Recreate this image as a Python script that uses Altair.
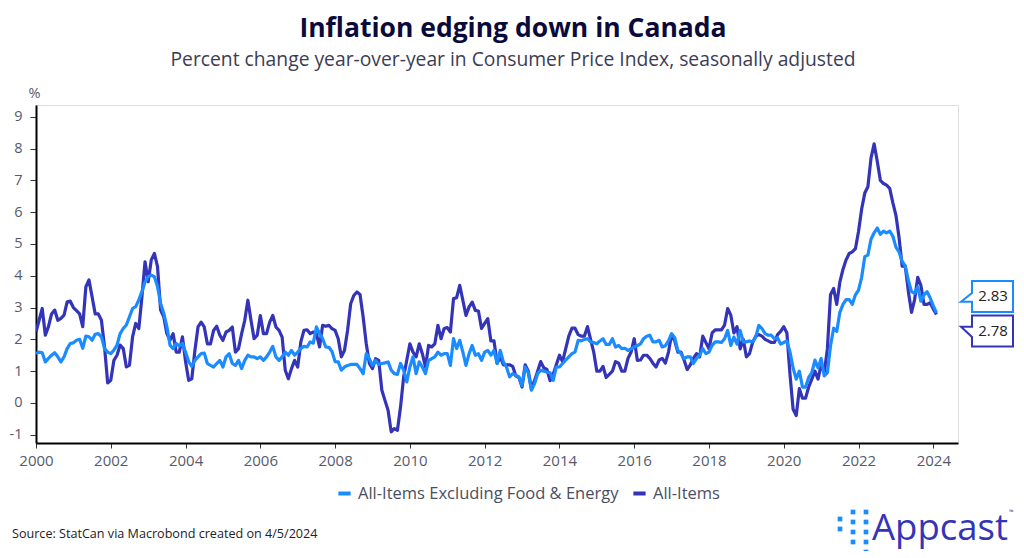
import altair as alt
import pandas as pd

START_YEAR = 2000
SERIES_CORE = "All-Items Excluding Food & Energy"
SERIES_ALL = "All-Items"

TITLE = "Inflation edging down in Canada"
SUBTITLE = "Percent change year-over-year in Consumer Price Index, seasonally adjusted"
SOURCE = "Source: StatCan via Macrobond created on 4/5/2024"
BRAND = "Appcast"

# Monthly values, Jan 2000 .. Feb 2024 (one row per year)
all_items = [
    2.24, 2.6, 2.97, 2.13, 2.4, 2.8, 2.92, 2.6, 2.66, 2.76, 3.18, 3.2,
    3.0, 2.9, 2.8, 2.4, 3.65, 3.87, 3.34, 2.8, 2.8, 2.6, 1.76, 0.63,
    0.71, 1.34, 1.5, 1.82, 1.71, 1.13, 1.19, 2.08, 2.5, 2.34, 3.34, 4.44,
    3.81, 4.5, 4.7, 4.29, 2.92, 2.71, 2.18, 1.97, 2.18, 1.6, 1.6, 2.08,
    1.3, 0.71, 0.76, 1.65, 2.39, 2.54, 2.39, 1.86, 1.86, 2.28, 2.41, 2.13,
    1.97, 2.23, 2.28, 2.39, 1.6, 1.71, 2.18, 2.6, 3.23, 2.6, 2.02, 2.13,
    2.75, 2.18, 2.18, 2.54, 2.75, 2.39, 2.28, 2.07, 1.03, 0.76, 1.08, 1.34,
    1.13, 1.92, 2.28, 2.3, 2.18, 2.23, 2.18, 1.76, 2.44, 2.41, 2.44, 2.34,
    2.28, 2.02, 1.45, 1.65, 2.28, 3.12, 3.38, 3.49, 3.41, 2.7, 1.86, 1.24,
    1.08, 1.39, 1.34, 0.4, 0.08, -0.23, -0.91, -0.81, -0.86, -0.13, 0.82, 1.34,
    1.86, 1.6, 1.45, 1.86, 1.55, 1.13, 1.81, 1.76, 1.86, 2.44, 2.02, 2.34,
    2.37, 2.23, 3.28, 3.31, 3.7, 3.23, 2.75, 3.02, 3.17, 2.91, 2.89, 2.34,
    2.5, 2.65, 1.95, 1.95, 1.25, 1.45, 1.2, 1.2, 1.2, 1.15, 0.85, 0.8,
    0.5, 1.2, 1.0, 0.45, 0.7, 1.0, 1.3, 1.1, 1.05, 0.7, 0.9, 1.2,
    1.5, 1.3, 1.7, 2.1, 2.35, 2.35, 2.15, 2.1, 2.1, 2.4, 2.0, 1.6,
    1.0, 1.0, 1.15, 0.8, 0.9, 1.0, 1.3, 1.25, 1.0, 1.0, 1.4, 1.6,
    2.02, 1.34, 1.35, 1.5, 1.5, 1.4, 1.25, 1.13, 1.35, 1.4, 1.25, 1.6,
    2.15, 1.95, 1.6, 1.6, 1.35, 1.05, 1.2, 1.4, 1.55, 1.45, 2.1, 1.9,
    1.7, 2.2, 2.3, 2.3, 2.3, 2.45, 2.97, 2.76, 2.2, 2.4, 1.7, 2.0,
    1.45, 1.55, 1.9, 2.1, 2.15, 2.1, 2.0, 1.95, 1.9, 1.9, 2.15, 2.25,
    2.4, 2.2, 0.9, -0.2, -0.4, 0.45, 0.15, 0.15, 0.5, 0.75, 1.0, 0.75,
    1.2, 0.95, 1.7, 3.4, 3.6, 3.1, 3.8, 4.2, 4.5, 4.7, 4.75, 4.85,
    5.4, 6.1, 6.6, 6.8, 7.7, 8.15, 7.6, 7.0, 6.9, 6.85, 6.75, 6.3,
    5.9, 5.2, 4.3, 4.3, 3.5, 2.85, 3.25, 3.95, 3.7, 3.1, 3.1, 3.15,
    2.95, 2.78,
]

core = [
    1.55, 1.6, 1.58, 1.29, 1.4, 1.5, 1.58, 1.45, 1.29, 1.45, 1.71, 1.87,
    1.89, 1.97, 2.0, 1.72, 2.1, 2.08, 1.97, 2.16, 2.18, 2.08, 1.71, 1.6,
    1.55, 1.66, 1.82, 2.18, 2.34, 2.45, 2.71, 2.97, 3.03, 3.24, 3.5, 3.81,
    3.97, 4.02, 3.97, 3.66, 3.13, 2.82, 2.4, 1.82, 1.71, 1.87, 1.79, 1.87,
    1.6, 1.3, 1.15, 1.34, 1.45, 1.55, 1.57, 1.24, 1.18, 1.13, 1.24, 1.34,
    1.13, 1.45, 1.55, 1.24, 1.18, 1.34, 1.08, 1.34, 1.5, 1.45, 1.45, 1.39,
    1.45, 1.34, 1.45, 1.6, 1.78, 1.45, 1.34, 1.45, 1.6, 1.5, 1.65, 1.5,
    1.6, 1.71, 1.78, 1.76, 1.92, 1.88, 2.39, 2.18, 2.02, 1.76, 1.75, 1.62,
    1.3, 1.29, 1.03, 1.13, 1.18, 1.21, 1.21, 1.21, 1.08, 0.92, 1.55, 1.39,
    1.18, 1.34, 1.21, 1.24, 1.26, 1.29, 1.03, 0.92, 0.9, 1.24, 1.03, 0.66,
    1.13, 1.45, 0.92, 1.29, 1.13, 0.92, 1.34, 1.39, 1.45, 1.6, 1.5, 1.55,
    1.55, 1.18, 2.02, 1.71, 1.97, 1.6, 1.18, 1.55, 1.81, 1.5, 1.55, 1.34,
    1.6, 1.65, 1.5, 1.65, 1.24, 1.65, 1.29, 1.13, 0.82, 0.92, 0.87, 0.82,
    0.55, 1.13, 0.95, 0.4, 0.6, 0.92, 1.03, 1.0, 0.97, 0.95, 0.71, 1.13,
    1.13, 1.24, 1.35, 1.45, 1.55, 1.6, 1.97, 1.95, 2.0, 2.02, 1.92, 1.9,
    1.86, 1.95, 2.02, 1.84, 1.84, 2.02, 1.76, 1.81, 1.71, 1.72, 1.65, 1.7,
    1.76, 1.8, 1.86, 2.02, 2.1, 2.13, 1.92, 1.92, 1.97, 1.76, 1.8, 1.95,
    2.18, 2.05, 1.65, 1.55, 1.39, 1.45, 1.45, 1.24, 1.4, 1.5, 1.71, 1.55,
    1.6, 1.81, 1.92, 1.92, 1.9, 2.02, 2.28, 1.81, 2.07, 1.85, 2.28, 1.92,
    1.92, 1.95, 1.92, 2.07, 2.44, 2.34, 2.18, 2.13, 2.13, 2.02, 2.05, 1.85,
    1.9, 1.95, 1.6, 1.1, 0.75, 1.0, 0.5, 0.5, 0.8, 0.95, 1.35, 1.1,
    1.4, 0.85, 0.95, 1.8, 2.35, 2.25, 2.85, 3.1, 3.25, 3.25, 3.1, 3.4,
    3.55, 3.95, 4.6, 4.65, 5.15, 5.35, 5.5, 5.3, 5.4, 5.35, 5.4, 5.25,
    4.9, 4.75, 4.45, 4.3, 3.85, 3.5, 3.45, 3.65, 3.2, 3.4, 3.5, 3.3,
    3.05, 2.83,
]

x_ticks = list(range(2000, 2025, 2))
y_ticks = list(range(-1, 10))

COL_CORE = "#1a8cff"
COL_ALL = "#3434b8"
FONT = "Open Sans"
W, H = 922, 338


def frame(vals, name):
    return pd.DataFrame({
        "t": [START_YEAR + i / 12 for i in range(len(vals))],
        "value": vals,
        "series": name,
    })


df = pd.concat([frame(all_items, SERIES_ALL), frame(core, SERIES_CORE)], ignore_index=True)

xscale = alt.Scale(domain=[2000, 2024.66], nice=False, zero=False)
yscale = alt.Scale(domain=[-1.26, 9.37], nice=False, zero=False)

X = alt.X("t:Q", scale=xscale, axis=alt.Axis(
    values=x_ticks, format="d", title=None, grid=False,
    labelFontSize=15, labelColor="#555a6e", labelFont=FONT, labelPadding=5,
    tickSize=5, tickColor="#333333", domainColor="#000000", domainWidth=2,
    labelFlush=False))
Y = alt.Y("value:Q", scale=yscale, axis=alt.Axis(
    values=y_ticks, title="%", titleAngle=0, titleAlign="center",
    titleBaseline="alphabetic", titleX=-2, titleY=-8, titleFontSize=14.5,
    titleFontWeight="normal", titleColor="#555a6e", titleFont=FONT,
    labelExpr="datum.value < 0 ? '-' + abs(datum.value) : '' + datum.value",
    grid=False, labelFontSize=14.5, labelColor="#555a6e", labelFont=FONT,
    labelPadding=8, tickSize=6, tickColor="#333333", domainColor="#000000",
    domainWidth=2))

color = alt.Color("series:N", scale=alt.Scale(domain=[SERIES_CORE, SERIES_ALL], range=[COL_CORE, COL_ALL]),
                  legend=alt.Legend(orient="none", legendX=300, legendY=380, direction="horizontal",
                                    title=None, symbolType="stroke", symbolStrokeWidth=4, symbolSize=150,
                                    labelFontSize=16.5, labelColor="#4a4e62", labelFont=FONT,
                                    labelLimit=0, columnPadding=6, labelOffset=5))

base = alt.Chart(df)
layers = []
for name in [SERIES_ALL, SERIES_CORE]:
    layers.append(
        base.transform_filter(alt.datum.series == name)
        .mark_line(strokeWidth=3.2, strokeJoin="round", clip=True)
        .encode(x=X, y=Y, color=color)
    )

# End-value callouts
PATH_UP = "M -20.5 -15.5 L 20.5 -15.5 L 20.5 15.5 L -20.5 15.5 L -20.5 5.3 L -31.5 5.3 L -20.5 -3.4 Z"
PATH_DOWN = "M -20.5 -15.5 L 20.5 -15.5 L 20.5 15.5 L -20.5 15.5 L -20.5 6 L -31.5 -4.3 L -20.5 -4.3 Z"
callouts = [
    (core[-1], COL_CORE, PATH_UP, -16.5),
    (all_items[-1], COL_ALL, PATH_DOWN, 16.5),
]
for val, col, path, off in callouts:
    cdf = pd.DataFrame({"value": [val], "label": [f"{val:.2f}"]})
    cb = alt.Chart(cdf)
    layers.append(cb.mark_point(shape=path, size=4, filled=True, fill="white", stroke=col,
                                strokeWidth=2, opacity=1, yOffset=off)
                  .encode(x=alt.value(956.5), y=Y))
    layers.append(cb.mark_text(fontSize=15, font=FONT, color="#222222", align="center",
                               baseline="middle", yOffset=off)
                  .encode(x=alt.value(957), y=Y, text="label:N"))


# Titles and footer text
def text_layer(txt, x, y, **kw):
    return alt.Chart(pd.DataFrame({"s": [txt]})).mark_text(font=FONT, **kw).encode(
        x=alt.value(x), y=alt.value(y), text="s:N")


layers.append(text_layer(TITLE, 477, -68.5, fontSize=26.5, fontWeight="bold", color="#0b0b3b",
                         align="center", baseline="alphabetic"))
layers.append(text_layer(SUBTITLE, 477, -39.5, fontSize=19.3, color="#3b3d55",
                         align="center", baseline="alphabetic"))
layers.append(text_layer(SOURCE, -24, 433, fontSize=12.6, color="#222222",
                         align="left", baseline="alphabetic"))
layers.append(text_layer(BRAND, 836, 435, fontSize=36.5, color="#3434b8",
                         align="left", baseline="alphabetic"))
layers.append(text_layer("\u2122", 973, 409, fontSize=6, color="#3434b8",
                         align="left", baseline="alphabetic"))

# Logo squares (decorative)
logo = pd.DataFrame({
    "cx": [804, 804, 817, 817, 817, 817, 830, 830, 830, 830, 830],
    "cy": [414, 424, 407, 417, 427, 437, 407, 417, 427, 437, 447],
})
layers.append(alt.Chart(logo).mark_square(size=22, color=COL_CORE, opacity=1).encode(
    x=alt.X("cx:Q", scale=None), y=alt.Y("cy:Q", scale=None)))

chart = alt.layer(*layers).properties(
    width=W, height=H, autosize="none",
    padding={"left": 28, "top": 97, "right": 58, "bottom": 108},
).configure_view(stroke=None).configure(background="white")

chart.save("out.html", embed_options={"renderer": "svg", "actions": False})
